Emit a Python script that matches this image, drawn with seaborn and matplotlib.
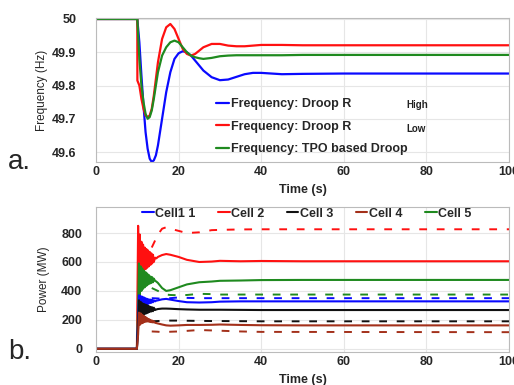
import matplotlib
matplotlib.use("Agg")
import matplotlib.pyplot as plt
import seaborn as sns

# ---------------- data: frequency (panel a) ----------------
t_freq = [0, 10, 10.5, 11, 11.5, 12, 12.5, 13, 13.5, 14, 14.5, 15, 16, 17, 18, 19, 20, 21, 22, 23, 24,
          25, 26, 28, 30, 32, 34, 36, 38, 40, 45, 50, 60, 100]
f_high = [50, 50, 49.93, 49.83, 49.74, 49.66, 49.61, 49.58, 49.57, 49.575, 49.59, 49.62, 49.70, 49.78,
          49.84, 49.88, 49.897, 49.903, 49.90, 49.89, 49.875, 49.86, 49.845, 49.825, 49.816, 49.818,
          49.826, 49.834, 49.838, 49.838, 49.834, 49.835, 49.836, 49.836]
t_low = [0, 10, 10.02, 10.5, 11, 11.5, 12, 12.5, 13, 13.5, 14, 14.5, 15, 16, 17, 18, 19, 20, 21, 22, 23,
         24, 25, 26, 28, 30, 32, 34, 36, 38, 40, 45, 50, 60, 100]
f_low = [50, 50, 49.815, 49.80, 49.76, 49.73, 49.71, 49.705, 49.71, 49.73, 49.77, 49.82, 49.87, 49.94,
         49.975, 49.985, 49.97, 49.94, 49.91, 49.895, 49.89, 49.895, 49.905, 49.915, 49.925, 49.925,
         49.92, 49.918, 49.918, 49.92, 49.922, 49.922, 49.921, 49.921, 49.921]
f_tpo = [50, 50, 49.88, 49.80, 49.75, 49.715, 49.70, 49.705, 49.725, 49.76, 49.80, 49.84, 49.89, 49.915,
         49.93, 49.935, 49.93, 49.915, 49.90, 49.89, 49.885, 49.882, 49.88, 49.883, 49.888, 49.89,
         49.891, 49.891, 49.891, 49.891, 49.891, 49.892, 49.892, 49.892]
freq_labels = ["Frequency: Droop R", "Frequency: Droop R", "Frequency: TPO based Droop"]

# ---------------- data: power (panel b) ----------------
t_pow = [0, 9.9, 10.2, 10.4, 10.6, 10.8, 11.0, 11.2, 11.4, 11.6, 11.8, 12.0, 12.2, 12.4, 12.6, 12.8,
         13.0, 13.2, 13.4, 13.6, 13.8, 14.0, 14.3, 14.6, 15, 16, 17, 18, 20, 22, 25, 28, 30, 35, 40, 50, 100]
p_cell1 = [0, 0, 200, 370, 280, 365, 285, 360, 295, 355, 300, 350, 305, 345, 310, 342, 315, 340, 318,
           338, 322, 335, 328, 333, 335, 342, 345, 340, 330, 322, 320, 322, 326, 328, 328, 328, 328]
p_cell2 = [0, 0, 850, 470, 790, 500, 740, 520, 720, 540, 700, 550, 690, 560, 680, 570, 670, 580, 660,
           590, 650, 600, 630, 625, 635, 648, 655, 650, 635, 615, 600, 603, 608, 605, 607, 605, 605]
p_cell3 = [0, 0, 150, 335, 215, 325, 225, 315, 235, 310, 240, 305, 245, 300, 250, 295, 255, 290, 258,
           287, 260, 284, 268, 272, 275, 278, 278, 277, 274, 272, 270, 270, 270, 269, 268, 268, 268]
p_cell4 = [0, 0, 100, 250, 165, 245, 175, 235, 180, 228, 185, 220, 188, 212, 188, 206, 186, 200, 184,
           195, 182, 190, 180, 178, 175, 168, 162, 160, 162, 165, 165, 166, 168, 165, 163, 162, 162]
p_cell5 = [0, 0, 300, 590, 370, 570, 400, 555, 415, 540, 425, 530, 435, 520, 445, 510, 450, 500, 455,
           495, 460, 485, 470, 465, 455, 420, 400, 405, 425, 445, 460, 465, 470, 472, 475, 476, 476]

t_ref = [13.5, 15, 16, 17, 18, 20, 22, 25, 28, 30, 35, 40, 100]
r_cell1 = [350, 348, 345, 346, 350, 355, 352, 350, 350, 350, 350, 350, 350]
r_cell2 = [700, 790, 830, 840, 830, 815, 800, 805, 820, 822, 825, 826, 826]
r_cell3 = [190, 192, 194, 195, 195, 195, 194, 193, 192, 192, 191, 190, 190]
r_cell4 = [120, 118, 115, 116, 118, 120, 124, 130, 127, 125, 120, 117, 115]
r_cell5 = [420, 400, 385, 375, 372, 370, 372, 380, 378, 375, 375, 375, 375]
cell_labels = ["Cell1 1", "Cell 2", "Cell 3", "Cell 4", "Cell 5"]

# ---------------- style ----------------
sns.set_theme(style="whitegrid")
plt.rcParams["font.family"] = ["Liberation Sans", "DejaVu Sans"]
plt.rcParams["grid.color"] = "#e6e6e6"
plt.rcParams["grid.linewidth"] = 0.8

fig = plt.figure(figsize=(5.14, 3.85), dpi=100)
W, H = 514, 385
ax1 = fig.add_axes([96 / W, (H - 162) / H, 413 / W, 144 / H])
ax2 = fig.add_axes([96 / W, (H - 352) / H, 413 / W, 145 / H])

BLUE, RED, GREEN, BLACK, BROWN = "#0a0aff", "#ff1010", "#1f8a1f", "#111111", "#a3301a"

# panel a
for tx, y, c, lab in zip([t_freq, t_low, t_freq], [f_high, f_low, f_tpo], [BLUE, RED, GREEN], freq_labels):
    sns.lineplot(x=tx, y=y, ax=ax1, color=c, lw=1.6, label=lab, sort=False)
ax1.set_xlim(0, 100)
ax1.set_ylim(49.57, 50.003)
ax1.set_yticks([49.6, 49.7, 49.8, 49.9, 50])
ax1.set_yticklabels(["49.6", "49.7", "49.8", "49.9", "50"])
ax1.set_xticks([0, 20, 40, 60, 80, 100])
ax1.set_xlabel("Time (s)", fontsize=9, fontweight="bold", labelpad=4)
ax1.set_ylabel("Frequency (Hz)", fontsize=8.5, labelpad=3)
ax1.tick_params(axis="y", pad=14, labelsize=9, length=0)
ax1.tick_params(axis="x", pad=3, labelsize=9, length=0)
leg1 = ax1.legend(loc="lower left", bbox_to_anchor=(0.285, 0.03), frameon=False,
                  fontsize=9, handlelength=1.0, handletextpad=0.15, labelspacing=0.85,
                  borderaxespad=0, borderpad=0.2)
for t in leg1.get_texts():
    t.set_fontweight("bold")
fig.text(406 / W, 1 - 105 / H, "High", fontsize=7, fontweight="bold", color="#222222", va="center")
fig.text(406 / W, 1 - 129 / H, "Low", fontsize=7, fontweight="bold", color="#222222", va="center")

# panel b
solid = [p_cell1, p_cell2, p_cell3, p_cell4, p_cell5]
dashed = [r_cell1, r_cell2, r_cell3, r_cell4, r_cell5]
cols = [BLUE, RED, BLACK, BROWN, GREEN]
for y, c in zip(dashed, cols):
    sns.lineplot(x=t_ref, y=y, ax=ax2, color=c, lw=1.4, sort=False, linestyle=(0, (4, 5)))
order = [1, 4, 0, 2, 3]
for i in order:
    sns.lineplot(x=t_pow, y=solid[i], ax=ax2, color=cols[i], lw=1.5, sort=False,
                 label=cell_labels[i])
ax2.set_xlim(0, 100)
ax2.set_ylim(-22, 980)
ax2.set_yticks([0, 200, 400, 600, 800])
ax2.set_xticks([0, 20, 40, 60, 80, 100])
ax2.set_xlabel("Time (s)", fontsize=9, fontweight="bold", labelpad=4)
ax2.set_ylabel("Power (MW)", fontsize=8.5, labelpad=8)
ax2.tick_params(axis="y", pad=10, labelsize=9, length=0)
ax2.tick_params(axis="x", pad=3, labelsize=9, length=0)
h, l = ax2.get_legend_handles_labels()
hd = dict(zip(l, h))
leg2 = ax2.legend([hd[k] for k in cell_labels], cell_labels, loc="upper left",
                  bbox_to_anchor=(0.1, 1.03), ncol=5, frameon=False, fontsize=9,
                  handlelength=0.9, handletextpad=0.1, columnspacing=1.85, borderaxespad=0)
for t in leg2.get_texts():
    t.set_fontweight("bold")

for ax in (ax1, ax2):
    for s in ax.spines.values():
        s.set_color("#bbbbbb")
        s.set_linewidth(0.8)
    for lab in ax.get_xticklabels() + ax.get_yticklabels():
        lab.set_fontweight("bold")

fig.text(8 / W, 1 - 162 / H, "a.", fontsize=20, va="center", ha="left")
fig.text(8 / W, 1 - 352 / H, "b.", fontsize=20, va="center", ha="left")

fig.savefig("out.png", dpi=100)
